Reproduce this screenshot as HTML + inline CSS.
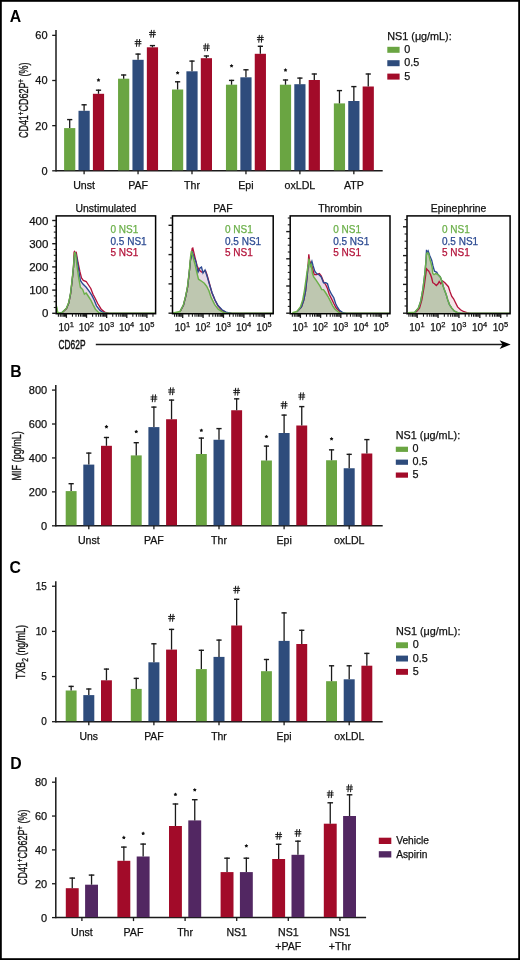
<!DOCTYPE html><html><head><meta charset="utf-8"><style>html,body{margin:0;padding:0;background:#fff;}svg{display:block;font-family:"Liberation Sans",sans-serif;will-change:transform;}</style></head><body>
<svg width="520" height="960" viewBox="0 0 520 960">
<rect x="0" y="0" width="520" height="960" fill="#fff"/>
<rect x="0.9" y="0.9" width="518.2" height="958.2" fill="none" stroke="#000" stroke-width="1.8"/>
<text x="9.8" y="21.9" font-size="15.8" text-anchor="start" font-weight="bold" fill="#000" >A</text>
<line x1="56" y1="30" x2="56" y2="171.55" stroke="#1a1a1a" stroke-width="1.5"/>
<line x1="52.2" y1="170.8" x2="56" y2="170.8" stroke="#1a1a1a" stroke-width="1.3"/>
<text x="47.6" y="174.76" font-size="11" text-anchor="end" font-weight="normal" fill="#111" stroke="#111" stroke-width="0.25" >0</text>
<line x1="52.2" y1="125.65" x2="56" y2="125.65" stroke="#1a1a1a" stroke-width="1.3"/>
<text x="47.6" y="129.61" font-size="11" text-anchor="end" font-weight="normal" fill="#111" stroke="#111" stroke-width="0.25" >20</text>
<line x1="52.2" y1="80.5" x2="56" y2="80.5" stroke="#1a1a1a" stroke-width="1.3"/>
<text x="47.6" y="84.46" font-size="11" text-anchor="end" font-weight="normal" fill="#111" stroke="#111" stroke-width="0.25" >40</text>
<line x1="52.2" y1="35.35" x2="56" y2="35.35" stroke="#1a1a1a" stroke-width="1.3"/>
<text x="47.6" y="39.31" font-size="11" text-anchor="end" font-weight="normal" fill="#111" stroke="#111" stroke-width="0.25" >60</text>
<line x1="56" y1="170.8" x2="382.7" y2="170.8" stroke="#1a1a1a" stroke-width="1.5"/>
<text transform="translate(27.9,100.3) rotate(-90) scale(0.7,1)" font-size="12.8" text-anchor="middle" font-weight="normal" fill="#111" stroke="#111" stroke-width="0.35">CD41<tspan font-size="9" dy="-4">+</tspan><tspan dy="4">CD62P</tspan><tspan font-size="9" dy="-4">+</tspan><tspan dy="4"> (%)</tspan></text>
<rect x="64.1" y="128.1" width="11.2" height="42.2" fill="#6aa542"/>
<line x1="69.7" y1="128.1" x2="69.7" y2="119" stroke="#1a1a1a" stroke-width="1.3"/>
<line x1="67.1" y1="119.6" x2="72.3" y2="119.6" stroke="#1a1a1a" stroke-width="1.4"/>
<rect x="78.5" y="110.8" width="11.2" height="59.5" fill="#2e4c7c"/>
<line x1="84.1" y1="110.8" x2="84.1" y2="104.2" stroke="#1a1a1a" stroke-width="1.3"/>
<line x1="81.5" y1="104.8" x2="86.7" y2="104.8" stroke="#1a1a1a" stroke-width="1.4"/>
<rect x="92.9" y="93.8" width="11.2" height="76.5" fill="#a20b29"/>
<line x1="98.5" y1="93.8" x2="98.5" y2="89.6" stroke="#1a1a1a" stroke-width="1.3"/>
<line x1="95.9" y1="90.2" x2="101.1" y2="90.2" stroke="#1a1a1a" stroke-width="1.4"/>
<polygon points="98.5,78.1 99.18,79.17 100.4,79.48 99.59,80.46 99.68,81.72 98.5,81.25 97.32,81.72 97.41,80.46 96.6,79.48 97.82,79.17" fill="#111"/>
<line x1="84.1" y1="170.8" x2="84.1" y2="174.3" stroke="#1a1a1a" stroke-width="1.3"/>
<text x="84.1" y="189" font-size="10.6" text-anchor="middle" font-weight="normal" fill="#111" stroke="#111" stroke-width="0.25" >Unst</text>
<rect x="118.05" y="78.7" width="11.2" height="91.6" fill="#6aa542"/>
<line x1="123.65" y1="78.7" x2="123.65" y2="74.4" stroke="#1a1a1a" stroke-width="1.3"/>
<line x1="121.05" y1="75" x2="126.25" y2="75" stroke="#1a1a1a" stroke-width="1.4"/>
<rect x="132.45" y="59.8" width="11.2" height="110.5" fill="#2e4c7c"/>
<line x1="138.05" y1="59.8" x2="138.05" y2="53.5" stroke="#1a1a1a" stroke-width="1.3"/>
<line x1="135.45" y1="54.1" x2="140.65" y2="54.1" stroke="#1a1a1a" stroke-width="1.4"/>
<path d="M137.05,39L136.45,46.8M139.65,39L139.05,46.8M134.65,41.55L141.45,41.55M134.65,43.75L141.45,43.75" stroke="#1a1a1a" stroke-width="1.0" fill="none"/>
<rect x="146.85" y="47.3" width="11.2" height="123" fill="#a20b29"/>
<line x1="152.45" y1="47.3" x2="152.45" y2="45" stroke="#1a1a1a" stroke-width="1.3"/>
<line x1="149.85" y1="45.6" x2="155.05" y2="45.6" stroke="#1a1a1a" stroke-width="1.4"/>
<path d="M151.45,29.9L150.85,37.7M154.05,29.9L153.45,37.7M149.05,32.45L155.85,32.45M149.05,34.65L155.85,34.65" stroke="#1a1a1a" stroke-width="1.0" fill="none"/>
<line x1="138.05" y1="170.8" x2="138.05" y2="174.3" stroke="#1a1a1a" stroke-width="1.3"/>
<text x="138.05" y="189" font-size="10.6" text-anchor="middle" font-weight="normal" fill="#111" stroke="#111" stroke-width="0.25" >PAF</text>
<rect x="172" y="89.5" width="11.2" height="80.8" fill="#6aa542"/>
<line x1="177.6" y1="89.5" x2="177.6" y2="81.2" stroke="#1a1a1a" stroke-width="1.3"/>
<line x1="175" y1="81.8" x2="180.2" y2="81.8" stroke="#1a1a1a" stroke-width="1.4"/>
<polygon points="177.6,70.9 178.28,71.97 179.5,72.28 178.69,73.26 178.78,74.52 177.6,74.05 176.42,74.52 176.51,73.26 175.7,72.28 176.92,71.97" fill="#111"/>
<rect x="186.4" y="71.3" width="11.2" height="99" fill="#2e4c7c"/>
<line x1="192" y1="71.3" x2="192" y2="60.5" stroke="#1a1a1a" stroke-width="1.3"/>
<line x1="189.4" y1="61.1" x2="194.6" y2="61.1" stroke="#1a1a1a" stroke-width="1.4"/>
<rect x="200.8" y="58.2" width="11.2" height="112.1" fill="#a20b29"/>
<line x1="206.4" y1="58.2" x2="206.4" y2="55.4" stroke="#1a1a1a" stroke-width="1.3"/>
<line x1="203.8" y1="56" x2="209" y2="56" stroke="#1a1a1a" stroke-width="1.4"/>
<path d="M205.4,43.4L204.8,51.2M208,43.4L207.4,51.2M203,45.95L209.8,45.95M203,48.15L209.8,48.15" stroke="#1a1a1a" stroke-width="1.0" fill="none"/>
<line x1="192" y1="170.8" x2="192" y2="174.3" stroke="#1a1a1a" stroke-width="1.3"/>
<text x="192" y="189" font-size="10.6" text-anchor="middle" font-weight="normal" fill="#111" stroke="#111" stroke-width="0.25" >Thr</text>
<rect x="225.95" y="84.7" width="11.2" height="85.6" fill="#6aa542"/>
<line x1="231.55" y1="84.7" x2="231.55" y2="79.8" stroke="#1a1a1a" stroke-width="1.3"/>
<line x1="228.95" y1="80.4" x2="234.15" y2="80.4" stroke="#1a1a1a" stroke-width="1.4"/>
<polygon points="231.55,63.9 232.23,64.97 233.45,65.28 232.64,66.26 232.73,67.52 231.55,67.05 230.37,67.52 230.46,66.26 229.65,65.28 230.87,64.97" fill="#111"/>
<rect x="240.35" y="77.3" width="11.2" height="93" fill="#2e4c7c"/>
<line x1="245.95" y1="77.3" x2="245.95" y2="69.2" stroke="#1a1a1a" stroke-width="1.3"/>
<line x1="243.35" y1="69.8" x2="248.55" y2="69.8" stroke="#1a1a1a" stroke-width="1.4"/>
<rect x="254.75" y="53.8" width="11.2" height="116.5" fill="#a20b29"/>
<line x1="260.35" y1="53.8" x2="260.35" y2="45.7" stroke="#1a1a1a" stroke-width="1.3"/>
<line x1="257.75" y1="46.3" x2="262.95" y2="46.3" stroke="#1a1a1a" stroke-width="1.4"/>
<path d="M259.35,34.9L258.75,42.7M261.95,34.9L261.35,42.7M256.95,37.45L263.75,37.45M256.95,39.65L263.75,39.65" stroke="#1a1a1a" stroke-width="1.0" fill="none"/>
<line x1="245.95" y1="170.8" x2="245.95" y2="174.3" stroke="#1a1a1a" stroke-width="1.3"/>
<text x="245.95" y="189" font-size="10.6" text-anchor="middle" font-weight="normal" fill="#111" stroke="#111" stroke-width="0.25" >Epi</text>
<rect x="279.9" y="84.7" width="11.2" height="85.6" fill="#6aa542"/>
<line x1="285.5" y1="84.7" x2="285.5" y2="79.4" stroke="#1a1a1a" stroke-width="1.3"/>
<line x1="282.9" y1="80" x2="288.1" y2="80" stroke="#1a1a1a" stroke-width="1.4"/>
<polygon points="285.5,68.1 286.18,69.17 287.4,69.48 286.59,70.46 286.68,71.72 285.5,71.25 284.32,71.72 284.41,70.46 283.6,69.48 284.82,69.17" fill="#111"/>
<rect x="294.3" y="84.2" width="11.2" height="86.1" fill="#2e4c7c"/>
<line x1="299.9" y1="84.2" x2="299.9" y2="77.5" stroke="#1a1a1a" stroke-width="1.3"/>
<line x1="297.3" y1="78.1" x2="302.5" y2="78.1" stroke="#1a1a1a" stroke-width="1.4"/>
<rect x="308.7" y="80" width="11.2" height="90.3" fill="#a20b29"/>
<line x1="314.3" y1="80" x2="314.3" y2="73.4" stroke="#1a1a1a" stroke-width="1.3"/>
<line x1="311.7" y1="74" x2="316.9" y2="74" stroke="#1a1a1a" stroke-width="1.4"/>
<line x1="299.9" y1="170.8" x2="299.9" y2="174.3" stroke="#1a1a1a" stroke-width="1.3"/>
<text x="299.9" y="189" font-size="10.6" text-anchor="middle" font-weight="normal" fill="#111" stroke="#111" stroke-width="0.25" >oxLDL</text>
<rect x="333.85" y="103.4" width="11.2" height="66.9" fill="#6aa542"/>
<line x1="339.45" y1="103.4" x2="339.45" y2="90" stroke="#1a1a1a" stroke-width="1.3"/>
<line x1="336.85" y1="90.6" x2="342.05" y2="90.6" stroke="#1a1a1a" stroke-width="1.4"/>
<rect x="348.25" y="101" width="11.2" height="69.3" fill="#2e4c7c"/>
<line x1="353.85" y1="101" x2="353.85" y2="86" stroke="#1a1a1a" stroke-width="1.3"/>
<line x1="351.25" y1="86.6" x2="356.45" y2="86.6" stroke="#1a1a1a" stroke-width="1.4"/>
<rect x="362.65" y="86.5" width="11.2" height="83.8" fill="#a20b29"/>
<line x1="368.25" y1="86.5" x2="368.25" y2="73.4" stroke="#1a1a1a" stroke-width="1.3"/>
<line x1="365.65" y1="74" x2="370.85" y2="74" stroke="#1a1a1a" stroke-width="1.4"/>
<line x1="353.85" y1="170.8" x2="353.85" y2="174.3" stroke="#1a1a1a" stroke-width="1.3"/>
<text x="353.85" y="189" font-size="10.6" text-anchor="middle" font-weight="normal" fill="#111" stroke="#111" stroke-width="0.25" >ATP</text>
<text x="387.3" y="39.9" font-size="10.8" text-anchor="start" font-weight="normal" fill="#111" stroke="#111" stroke-width="0.25" >NS1 (μg/mL):</text>
<rect x="387.3" y="46.8" width="12.3" height="6" fill="#6aa542"/>
<text x="404.2" y="52.9" font-size="10.8" text-anchor="start" font-weight="normal" fill="#111" stroke="#111" stroke-width="0.25" >0</text>
<rect x="387.3" y="60.2" width="12.3" height="6" fill="#2e4c7c"/>
<text x="404.2" y="66.3" font-size="10.8" text-anchor="start" font-weight="normal" fill="#111" stroke="#111" stroke-width="0.25" >0.5</text>
<rect x="387.3" y="73.6" width="12.3" height="6" fill="#a20b29"/>
<text x="404.2" y="79.7" font-size="10.8" text-anchor="start" font-weight="normal" fill="#111" stroke="#111" stroke-width="0.25" >5</text>
<text x="105.9" y="211.6" font-size="10.4" text-anchor="middle" font-weight="normal" fill="#111" stroke="#111" stroke-width="0.25" >Unstimulated</text>
<clipPath id="cp0"><rect x="56.2" y="215.9" width="99.4" height="97.8"/></clipPath>
<g clip-path="url(#cp0)">
<polygon points="60,313.7 60,313 62,312.6 64.2,310.6 66.5,308.4 68.8,302.8 70.6,293.5 72.3,279 73.5,267 74.4,256 75.2,252.1 76.9,258.5 78.7,270 80.4,280.4 82.7,283.8 86.2,287.3 89.6,291.9 91.9,295.4 94.2,300 96.5,305.8 100,310.4 103.5,312.7 108,313.3 108,313.7" fill="#e7d9e6"/>
<polygon points="56,313.7 56,305 57.5,312.5 60,313 62,312.6 64.2,310.4 66.5,308 68.8,302.3 70.6,293 72.3,278 73.5,266.5 74.4,255 74.8,252 75.8,255 76.9,265.4 78.7,278 80.4,287.3 82.7,289.6 84.4,294.2 86.2,293 88.5,296.5 90.8,300 93,304.6 95.4,309.2 98.8,312.7 102,313.3 102,313.7" fill="#bec7b0"/>
<polyline points="60,313 62,312.7 64.2,310.8 66.5,308.6 68.8,303 70.6,294 72.3,279.5 73.5,267 74.1,252 74.6,251.5 75.5,253.5 76.3,252.7 78.1,263 79.8,271.2 81.5,278 83.3,280.4 86.2,281.5 88.5,285 90.8,288.5 93,294.2 95.4,298.8 97.7,303.5 101.2,309.2 104.6,312.1 109.2,313.3 115,313.4 155.6,313.4" fill="none" stroke="#b3133a" stroke-width="1.35"/>
<polyline points="60,313 62,312.6 64.2,310.6 66.5,308.4 68.8,302.8 70.6,293.5 72.3,279 73.5,267 74.4,256 75.2,252.1 76.9,258.5 78.7,270 80.4,280.4 82.7,283.8 86.2,287.3 89.6,291.9 91.9,295.4 94.2,300 96.5,305.8 100,310.4 103.5,312.7 108,313.3 155.6,313.4" fill="none" stroke="#2c4a92" stroke-width="1.35"/>
<polyline points="56,305 57.5,312.5 60,313 62,312.6 64.2,310.4 66.5,308 68.8,302.3 70.6,293 72.3,278 73.5,266.5 74.4,255 74.8,252 75.8,255 76.9,265.4 78.7,278 80.4,287.3 82.7,289.6 84.4,294.2 86.2,293 88.5,296.5 90.8,300 93,304.6 95.4,309.2 98.8,312.7 102,313.3 155.6,313.3" fill="none" stroke="#6cb04a" stroke-width="1.45"/>
<polyline points="56.2,304.7 57.7,312.2 60.2,313.3" fill="none" stroke="#6cb04a" stroke-width="1.3"/>
</g>
<rect x="56.2" y="215.9" width="99.4" height="97.8" fill="none" stroke="#000" stroke-width="1.5"/>
<text x="110.5" y="233" font-size="10" text-anchor="start" font-weight="normal" fill="#6cb04a" stroke="#6cb04a" stroke-width="0.25" >0 NS1</text>
<text x="110.5" y="244.5" font-size="10" text-anchor="start" font-weight="normal" fill="#2c4a92" stroke="#2c4a92" stroke-width="0.25" >0.5 NS1</text>
<text x="110.5" y="256" font-size="10" text-anchor="start" font-weight="normal" fill="#b3133a" stroke="#b3133a" stroke-width="0.25" >5 NS1</text>
<line x1="52.2" y1="313.3" x2="56.2" y2="313.3" stroke="#1a1a1a" stroke-width="1.4"/>
<text x="48.4" y="317.4" font-size="11.5" text-anchor="end" font-weight="normal" fill="#111" stroke="#111" stroke-width="0.25" >0</text>
<line x1="52.2" y1="290.1" x2="56.2" y2="290.1" stroke="#1a1a1a" stroke-width="1.4"/>
<text x="48.4" y="294.2" font-size="11.5" text-anchor="end" font-weight="normal" fill="#111" stroke="#111" stroke-width="0.25" >100</text>
<line x1="52.2" y1="266.9" x2="56.2" y2="266.9" stroke="#1a1a1a" stroke-width="1.4"/>
<text x="48.4" y="271" font-size="11.5" text-anchor="end" font-weight="normal" fill="#111" stroke="#111" stroke-width="0.25" >200</text>
<line x1="52.2" y1="243.7" x2="56.2" y2="243.7" stroke="#1a1a1a" stroke-width="1.4"/>
<text x="48.4" y="247.8" font-size="11.5" text-anchor="end" font-weight="normal" fill="#111" stroke="#111" stroke-width="0.25" >300</text>
<line x1="52.2" y1="220.5" x2="56.2" y2="220.5" stroke="#1a1a1a" stroke-width="1.4"/>
<text x="48.4" y="224.6" font-size="11.5" text-anchor="end" font-weight="normal" fill="#111" stroke="#111" stroke-width="0.25" >400</text>
<line x1="53.8" y1="307.5" x2="56.2" y2="307.5" stroke="#1a1a1a" stroke-width="1.1"/>
<line x1="53.8" y1="301.7" x2="56.2" y2="301.7" stroke="#1a1a1a" stroke-width="1.1"/>
<line x1="53.8" y1="295.9" x2="56.2" y2="295.9" stroke="#1a1a1a" stroke-width="1.1"/>
<line x1="53.8" y1="284.3" x2="56.2" y2="284.3" stroke="#1a1a1a" stroke-width="1.1"/>
<line x1="53.8" y1="278.5" x2="56.2" y2="278.5" stroke="#1a1a1a" stroke-width="1.1"/>
<line x1="53.8" y1="272.7" x2="56.2" y2="272.7" stroke="#1a1a1a" stroke-width="1.1"/>
<line x1="53.8" y1="261.1" x2="56.2" y2="261.1" stroke="#1a1a1a" stroke-width="1.1"/>
<line x1="53.8" y1="255.3" x2="56.2" y2="255.3" stroke="#1a1a1a" stroke-width="1.1"/>
<line x1="53.8" y1="249.5" x2="56.2" y2="249.5" stroke="#1a1a1a" stroke-width="1.1"/>
<line x1="53.8" y1="237.9" x2="56.2" y2="237.9" stroke="#1a1a1a" stroke-width="1.1"/>
<line x1="53.8" y1="232.1" x2="56.2" y2="232.1" stroke="#1a1a1a" stroke-width="1.1"/>
<line x1="53.8" y1="226.3" x2="56.2" y2="226.3" stroke="#1a1a1a" stroke-width="1.1"/>
<line x1="58.39" y1="313.7" x2="58.39" y2="316.7" stroke="#1a1a1a" stroke-width="1.1"/>
<line x1="60.34" y1="313.7" x2="60.34" y2="316.7" stroke="#1a1a1a" stroke-width="1.1"/>
<line x1="61.93" y1="313.7" x2="61.93" y2="316.7" stroke="#1a1a1a" stroke-width="1.1"/>
<line x1="63.28" y1="313.7" x2="63.28" y2="316.7" stroke="#1a1a1a" stroke-width="1.1"/>
<line x1="64.45" y1="313.7" x2="64.45" y2="316.7" stroke="#1a1a1a" stroke-width="1.1"/>
<line x1="65.48" y1="313.7" x2="65.48" y2="316.7" stroke="#1a1a1a" stroke-width="1.1"/>
<line x1="66.4" y1="313.7" x2="66.4" y2="317.9" stroke="#1a1a1a" stroke-width="1.3"/>
<line x1="72.46" y1="313.7" x2="72.46" y2="316.7" stroke="#1a1a1a" stroke-width="1.1"/>
<line x1="76" y1="313.7" x2="76" y2="316.7" stroke="#1a1a1a" stroke-width="1.1"/>
<line x1="78.52" y1="313.7" x2="78.52" y2="316.7" stroke="#1a1a1a" stroke-width="1.1"/>
<line x1="80.47" y1="313.7" x2="80.47" y2="316.7" stroke="#1a1a1a" stroke-width="1.1"/>
<line x1="82.06" y1="313.7" x2="82.06" y2="316.7" stroke="#1a1a1a" stroke-width="1.1"/>
<line x1="83.41" y1="313.7" x2="83.41" y2="316.7" stroke="#1a1a1a" stroke-width="1.1"/>
<line x1="84.58" y1="313.7" x2="84.58" y2="316.7" stroke="#1a1a1a" stroke-width="1.1"/>
<line x1="85.61" y1="313.7" x2="85.61" y2="316.7" stroke="#1a1a1a" stroke-width="1.1"/>
<line x1="86.53" y1="313.7" x2="86.53" y2="317.9" stroke="#1a1a1a" stroke-width="1.3"/>
<line x1="92.59" y1="313.7" x2="92.59" y2="316.7" stroke="#1a1a1a" stroke-width="1.1"/>
<line x1="96.13" y1="313.7" x2="96.13" y2="316.7" stroke="#1a1a1a" stroke-width="1.1"/>
<line x1="98.65" y1="313.7" x2="98.65" y2="316.7" stroke="#1a1a1a" stroke-width="1.1"/>
<line x1="100.6" y1="313.7" x2="100.6" y2="316.7" stroke="#1a1a1a" stroke-width="1.1"/>
<line x1="102.19" y1="313.7" x2="102.19" y2="316.7" stroke="#1a1a1a" stroke-width="1.1"/>
<line x1="103.54" y1="313.7" x2="103.54" y2="316.7" stroke="#1a1a1a" stroke-width="1.1"/>
<line x1="104.71" y1="313.7" x2="104.71" y2="316.7" stroke="#1a1a1a" stroke-width="1.1"/>
<line x1="105.74" y1="313.7" x2="105.74" y2="316.7" stroke="#1a1a1a" stroke-width="1.1"/>
<line x1="106.66" y1="313.7" x2="106.66" y2="317.9" stroke="#1a1a1a" stroke-width="1.3"/>
<line x1="112.72" y1="313.7" x2="112.72" y2="316.7" stroke="#1a1a1a" stroke-width="1.1"/>
<line x1="116.26" y1="313.7" x2="116.26" y2="316.7" stroke="#1a1a1a" stroke-width="1.1"/>
<line x1="118.78" y1="313.7" x2="118.78" y2="316.7" stroke="#1a1a1a" stroke-width="1.1"/>
<line x1="120.73" y1="313.7" x2="120.73" y2="316.7" stroke="#1a1a1a" stroke-width="1.1"/>
<line x1="122.32" y1="313.7" x2="122.32" y2="316.7" stroke="#1a1a1a" stroke-width="1.1"/>
<line x1="123.67" y1="313.7" x2="123.67" y2="316.7" stroke="#1a1a1a" stroke-width="1.1"/>
<line x1="124.83" y1="313.7" x2="124.83" y2="316.7" stroke="#1a1a1a" stroke-width="1.1"/>
<line x1="125.86" y1="313.7" x2="125.86" y2="316.7" stroke="#1a1a1a" stroke-width="1.1"/>
<line x1="126.79" y1="313.7" x2="126.79" y2="317.9" stroke="#1a1a1a" stroke-width="1.3"/>
<line x1="132.84" y1="313.7" x2="132.84" y2="316.7" stroke="#1a1a1a" stroke-width="1.1"/>
<line x1="136.39" y1="313.7" x2="136.39" y2="316.7" stroke="#1a1a1a" stroke-width="1.1"/>
<line x1="138.9" y1="313.7" x2="138.9" y2="316.7" stroke="#1a1a1a" stroke-width="1.1"/>
<line x1="140.85" y1="313.7" x2="140.85" y2="316.7" stroke="#1a1a1a" stroke-width="1.1"/>
<line x1="142.45" y1="313.7" x2="142.45" y2="316.7" stroke="#1a1a1a" stroke-width="1.1"/>
<line x1="143.8" y1="313.7" x2="143.8" y2="316.7" stroke="#1a1a1a" stroke-width="1.1"/>
<line x1="144.96" y1="313.7" x2="144.96" y2="316.7" stroke="#1a1a1a" stroke-width="1.1"/>
<line x1="145.99" y1="313.7" x2="145.99" y2="316.7" stroke="#1a1a1a" stroke-width="1.1"/>
<line x1="146.91" y1="313.7" x2="146.91" y2="317.9" stroke="#1a1a1a" stroke-width="1.3"/>
<line x1="152.97" y1="313.7" x2="152.97" y2="316.7" stroke="#1a1a1a" stroke-width="1.1"/>
<text x="58.5" y="331.4" font-size="10" fill="#111" stroke="#111" stroke-width="0.25">10<tspan font-size="7.5" dy="-4.2">1</tspan></text>
<text x="78.63" y="331.4" font-size="10" fill="#111" stroke="#111" stroke-width="0.25">10<tspan font-size="7.5" dy="-4.2">2</tspan></text>
<text x="98.76" y="331.4" font-size="10" fill="#111" stroke="#111" stroke-width="0.25">10<tspan font-size="7.5" dy="-4.2">3</tspan></text>
<text x="118.89" y="331.4" font-size="10" fill="#111" stroke="#111" stroke-width="0.25">10<tspan font-size="7.5" dy="-4.2">4</tspan></text>
<text x="139.01" y="331.4" font-size="10" fill="#111" stroke="#111" stroke-width="0.25">10<tspan font-size="7.5" dy="-4.2">5</tspan></text>
<text x="222.85" y="211.6" font-size="10.4" text-anchor="middle" font-weight="normal" fill="#111" stroke="#111" stroke-width="0.25" >PAF</text>
<clipPath id="cp1"><rect x="172.5" y="215.9" width="100.7" height="97.8"/></clipPath>
<g clip-path="url(#cp1)">
<polygon points="180,313.7 180,311.6 183.5,305 185.8,296 187.6,287 189.3,272 190.5,260 192.5,252.7 194,257 196,262 198,272.3 200,268 201.5,267.1 203,273 205,270 207,276 209.5,284.5 212,292.5 215,300 218,305.5 222,309.8 226,312.2 232,313.3 232,313.7" fill="#e7d9e6"/>
<polygon points="173,313.7 173,313 180,311.5 183.5,304.6 185.8,295.4 187.6,286 189.3,271 190.5,257.3 191.4,251 192.8,256 195,264.2 196.8,272.3 198.5,279.2 202,281.5 204.3,283.3 206.6,286.2 208.9,290.8 211.2,297.7 214.7,304.6 218.2,309.2 222.8,312.1 226.2,313.2 226.2,313.7" fill="#bec7b0"/>
<polyline points="180,311.7 183.5,305.2 185.8,296.2 187.6,287.2 189.3,272 190.5,260 192.2,248.5 192.8,248.1 195,257.3 197,265.4 199,270 202,272.3 205.5,270.6 207,274.6 209.5,283.8 212,293 215,300 218,305.8 222,310.4 226,312.3 232,313.3 273.2,313.4" fill="none" stroke="#b3133a" stroke-width="1.35"/>
<polyline points="180,311.6 183.5,305 185.8,296 187.6,287 189.3,272 190.5,260 192.5,252.7 194,257 196,262 198,272.3 200,268 201.5,267.1 203,273 205,270 207,276 209.5,284.5 212,292.5 215,300 218,305.5 222,309.8 226,312.2 232,313.3 273.2,313.4" fill="none" stroke="#2c4a92" stroke-width="1.35"/>
<polyline points="173,313 180,311.5 183.5,304.6 185.8,295.4 187.6,286 189.3,271 190.5,257.3 191.4,251 192.8,256 195,264.2 196.8,272.3 198.5,279.2 202,281.5 204.3,283.3 206.6,286.2 208.9,290.8 211.2,297.7 214.7,304.6 218.2,309.2 222.8,312.1 226.2,313.2 273.2,313.3" fill="none" stroke="#6cb04a" stroke-width="1.45"/>
</g>
<rect x="172.5" y="215.9" width="100.7" height="97.8" fill="none" stroke="#000" stroke-width="1.5"/>
<text x="225" y="233" font-size="10" text-anchor="start" font-weight="normal" fill="#6cb04a" stroke="#6cb04a" stroke-width="0.25" >0 NS1</text>
<text x="225" y="244.5" font-size="10" text-anchor="start" font-weight="normal" fill="#2c4a92" stroke="#2c4a92" stroke-width="0.25" >0.5 NS1</text>
<text x="225" y="256" font-size="10" text-anchor="start" font-weight="normal" fill="#b3133a" stroke="#b3133a" stroke-width="0.25" >5 NS1</text>
<line x1="168.5" y1="313.2" x2="172.5" y2="313.2" stroke="#1a1a1a" stroke-width="1.4"/>
<line x1="170.1" y1="305.88" x2="172.5" y2="305.88" stroke="#1a1a1a" stroke-width="1.1"/>
<line x1="170.1" y1="298.55" x2="172.5" y2="298.55" stroke="#1a1a1a" stroke-width="1.1"/>
<line x1="170.1" y1="291.22" x2="172.5" y2="291.22" stroke="#1a1a1a" stroke-width="1.1"/>
<line x1="168.5" y1="283.9" x2="172.5" y2="283.9" stroke="#1a1a1a" stroke-width="1.4"/>
<line x1="170.1" y1="276.57" x2="172.5" y2="276.57" stroke="#1a1a1a" stroke-width="1.1"/>
<line x1="170.1" y1="269.25" x2="172.5" y2="269.25" stroke="#1a1a1a" stroke-width="1.1"/>
<line x1="170.1" y1="261.92" x2="172.5" y2="261.92" stroke="#1a1a1a" stroke-width="1.1"/>
<line x1="168.5" y1="254.6" x2="172.5" y2="254.6" stroke="#1a1a1a" stroke-width="1.4"/>
<line x1="170.1" y1="247.27" x2="172.5" y2="247.27" stroke="#1a1a1a" stroke-width="1.1"/>
<line x1="170.1" y1="239.95" x2="172.5" y2="239.95" stroke="#1a1a1a" stroke-width="1.1"/>
<line x1="170.1" y1="232.62" x2="172.5" y2="232.62" stroke="#1a1a1a" stroke-width="1.1"/>
<line x1="168.5" y1="225.3" x2="172.5" y2="225.3" stroke="#1a1a1a" stroke-width="1.4"/>
<line x1="170.1" y1="217.97" x2="172.5" y2="217.97" stroke="#1a1a1a" stroke-width="1.1"/>
<line x1="174.59" y1="313.7" x2="174.59" y2="316.7" stroke="#1a1a1a" stroke-width="1.1"/>
<line x1="176.56" y1="313.7" x2="176.56" y2="316.7" stroke="#1a1a1a" stroke-width="1.1"/>
<line x1="178.18" y1="313.7" x2="178.18" y2="316.7" stroke="#1a1a1a" stroke-width="1.1"/>
<line x1="179.54" y1="313.7" x2="179.54" y2="316.7" stroke="#1a1a1a" stroke-width="1.1"/>
<line x1="180.72" y1="313.7" x2="180.72" y2="316.7" stroke="#1a1a1a" stroke-width="1.1"/>
<line x1="181.77" y1="313.7" x2="181.77" y2="316.7" stroke="#1a1a1a" stroke-width="1.1"/>
<line x1="182.7" y1="313.7" x2="182.7" y2="317.9" stroke="#1a1a1a" stroke-width="1.3"/>
<line x1="188.84" y1="313.7" x2="188.84" y2="316.7" stroke="#1a1a1a" stroke-width="1.1"/>
<line x1="192.43" y1="313.7" x2="192.43" y2="316.7" stroke="#1a1a1a" stroke-width="1.1"/>
<line x1="194.98" y1="313.7" x2="194.98" y2="316.7" stroke="#1a1a1a" stroke-width="1.1"/>
<line x1="196.95" y1="313.7" x2="196.95" y2="316.7" stroke="#1a1a1a" stroke-width="1.1"/>
<line x1="198.57" y1="313.7" x2="198.57" y2="316.7" stroke="#1a1a1a" stroke-width="1.1"/>
<line x1="199.93" y1="313.7" x2="199.93" y2="316.7" stroke="#1a1a1a" stroke-width="1.1"/>
<line x1="201.12" y1="313.7" x2="201.12" y2="316.7" stroke="#1a1a1a" stroke-width="1.1"/>
<line x1="202.16" y1="313.7" x2="202.16" y2="316.7" stroke="#1a1a1a" stroke-width="1.1"/>
<line x1="203.09" y1="313.7" x2="203.09" y2="317.9" stroke="#1a1a1a" stroke-width="1.3"/>
<line x1="209.23" y1="313.7" x2="209.23" y2="316.7" stroke="#1a1a1a" stroke-width="1.1"/>
<line x1="212.82" y1="313.7" x2="212.82" y2="316.7" stroke="#1a1a1a" stroke-width="1.1"/>
<line x1="215.37" y1="313.7" x2="215.37" y2="316.7" stroke="#1a1a1a" stroke-width="1.1"/>
<line x1="217.34" y1="313.7" x2="217.34" y2="316.7" stroke="#1a1a1a" stroke-width="1.1"/>
<line x1="218.96" y1="313.7" x2="218.96" y2="316.7" stroke="#1a1a1a" stroke-width="1.1"/>
<line x1="220.32" y1="313.7" x2="220.32" y2="316.7" stroke="#1a1a1a" stroke-width="1.1"/>
<line x1="221.51" y1="313.7" x2="221.51" y2="316.7" stroke="#1a1a1a" stroke-width="1.1"/>
<line x1="222.55" y1="313.7" x2="222.55" y2="316.7" stroke="#1a1a1a" stroke-width="1.1"/>
<line x1="223.48" y1="313.7" x2="223.48" y2="317.9" stroke="#1a1a1a" stroke-width="1.3"/>
<line x1="229.62" y1="313.7" x2="229.62" y2="316.7" stroke="#1a1a1a" stroke-width="1.1"/>
<line x1="233.21" y1="313.7" x2="233.21" y2="316.7" stroke="#1a1a1a" stroke-width="1.1"/>
<line x1="235.76" y1="313.7" x2="235.76" y2="316.7" stroke="#1a1a1a" stroke-width="1.1"/>
<line x1="237.74" y1="313.7" x2="237.74" y2="316.7" stroke="#1a1a1a" stroke-width="1.1"/>
<line x1="239.35" y1="313.7" x2="239.35" y2="316.7" stroke="#1a1a1a" stroke-width="1.1"/>
<line x1="240.72" y1="313.7" x2="240.72" y2="316.7" stroke="#1a1a1a" stroke-width="1.1"/>
<line x1="241.9" y1="313.7" x2="241.9" y2="316.7" stroke="#1a1a1a" stroke-width="1.1"/>
<line x1="242.94" y1="313.7" x2="242.94" y2="316.7" stroke="#1a1a1a" stroke-width="1.1"/>
<line x1="243.88" y1="313.7" x2="243.88" y2="317.9" stroke="#1a1a1a" stroke-width="1.3"/>
<line x1="250.01" y1="313.7" x2="250.01" y2="316.7" stroke="#1a1a1a" stroke-width="1.1"/>
<line x1="253.6" y1="313.7" x2="253.6" y2="316.7" stroke="#1a1a1a" stroke-width="1.1"/>
<line x1="256.15" y1="313.7" x2="256.15" y2="316.7" stroke="#1a1a1a" stroke-width="1.1"/>
<line x1="258.13" y1="313.7" x2="258.13" y2="316.7" stroke="#1a1a1a" stroke-width="1.1"/>
<line x1="259.74" y1="313.7" x2="259.74" y2="316.7" stroke="#1a1a1a" stroke-width="1.1"/>
<line x1="261.11" y1="313.7" x2="261.11" y2="316.7" stroke="#1a1a1a" stroke-width="1.1"/>
<line x1="262.29" y1="313.7" x2="262.29" y2="316.7" stroke="#1a1a1a" stroke-width="1.1"/>
<line x1="263.33" y1="313.7" x2="263.33" y2="316.7" stroke="#1a1a1a" stroke-width="1.1"/>
<line x1="264.27" y1="313.7" x2="264.27" y2="317.9" stroke="#1a1a1a" stroke-width="1.3"/>
<line x1="270.41" y1="313.7" x2="270.41" y2="316.7" stroke="#1a1a1a" stroke-width="1.1"/>
<text x="174.8" y="331.4" font-size="10" fill="#111" stroke="#111" stroke-width="0.25">10<tspan font-size="7.5" dy="-4.2">1</tspan></text>
<text x="195.19" y="331.4" font-size="10" fill="#111" stroke="#111" stroke-width="0.25">10<tspan font-size="7.5" dy="-4.2">2</tspan></text>
<text x="215.58" y="331.4" font-size="10" fill="#111" stroke="#111" stroke-width="0.25">10<tspan font-size="7.5" dy="-4.2">3</tspan></text>
<text x="235.98" y="331.4" font-size="10" fill="#111" stroke="#111" stroke-width="0.25">10<tspan font-size="7.5" dy="-4.2">4</tspan></text>
<text x="256.37" y="331.4" font-size="10" fill="#111" stroke="#111" stroke-width="0.25">10<tspan font-size="7.5" dy="-4.2">5</tspan></text>
<text x="340.1" y="211.6" font-size="10.4" text-anchor="middle" font-weight="normal" fill="#111" stroke="#111" stroke-width="0.25" >Thrombin</text>
<clipPath id="cp2"><rect x="290.2" y="215.9" width="99.8" height="97.8"/></clipPath>
<g clip-path="url(#cp2)">
<polygon points="296.9,313.7 296.9,311.7 301.5,306.9 303.8,300 305.6,290.8 307.3,274.6 308,266.5 309,263 310.8,264.2 311.9,261.3 313,265.4 314.8,271.2 316.5,273.5 318.8,274.6 321.2,277 323.5,282.7 325.8,282.7 327.5,283.8 329.2,289.6 331.5,294.2 333.8,297.7 335.6,303.5 337.3,307 339.6,310.4 343,312.7 346.5,313.3 346.5,313.7" fill="#e7d9e6"/>
<polygon points="292.3,313.7 292.3,312.7 296.9,311.5 300.4,306.9 302.7,300 304.4,290.8 306.2,278 307.3,270 308.5,263 309,258.5 310.2,266.5 311.3,264.8 312.5,273.5 313.7,277 315.4,279.2 317.7,282.7 320,286.2 321.7,289.6 323.5,289.6 325.8,293 328,296.5 330.4,301.2 332.7,305.8 335,309.2 338.5,312.1 340.8,313.3 340.8,313.7" fill="#bec7b0"/>
<polyline points="296.9,311.8 301.5,307 303.8,300.2 305.6,291 307.3,275 308.3,262 308.8,254.4 309.6,260.8 311.3,264.2 313,270 314.2,274.6 316.5,274.6 319.4,273.5 321.2,275.8 323.5,281.5 325.8,285 327.5,288.5 329.2,294.2 331.5,298.8 333.8,303.5 336.2,308 339.6,311.5 343,313.3 390,313.4" fill="none" stroke="#b3133a" stroke-width="1.35"/>
<polyline points="296.9,311.7 301.5,306.9 303.8,300 305.6,290.8 307.3,274.6 308,266.5 309,263 310.8,264.2 311.9,261.3 313,265.4 314.8,271.2 316.5,273.5 318.8,274.6 321.2,277 323.5,282.7 325.8,282.7 327.5,283.8 329.2,289.6 331.5,294.2 333.8,297.7 335.6,303.5 337.3,307 339.6,310.4 343,312.7 346.5,313.3 390,313.4" fill="none" stroke="#2c4a92" stroke-width="1.35"/>
<polyline points="292.3,312.7 296.9,311.5 300.4,306.9 302.7,300 304.4,290.8 306.2,278 307.3,270 308.5,263 309,258.5 310.2,266.5 311.3,264.8 312.5,273.5 313.7,277 315.4,279.2 317.7,282.7 320,286.2 321.7,289.6 323.5,289.6 325.8,293 328,296.5 330.4,301.2 332.7,305.8 335,309.2 338.5,312.1 340.8,313.3 390,313.3" fill="none" stroke="#6cb04a" stroke-width="1.45"/>
</g>
<rect x="290.2" y="215.9" width="99.8" height="97.8" fill="none" stroke="#000" stroke-width="1.5"/>
<text x="333.2" y="233" font-size="10" text-anchor="start" font-weight="normal" fill="#6cb04a" stroke="#6cb04a" stroke-width="0.25" >0 NS1</text>
<text x="333.2" y="244.5" font-size="10" text-anchor="start" font-weight="normal" fill="#2c4a92" stroke="#2c4a92" stroke-width="0.25" >0.5 NS1</text>
<text x="333.2" y="256" font-size="10" text-anchor="start" font-weight="normal" fill="#b3133a" stroke="#b3133a" stroke-width="0.25" >5 NS1</text>
<line x1="286.2" y1="313.2" x2="290.2" y2="313.2" stroke="#1a1a1a" stroke-width="1.4"/>
<line x1="287.8" y1="306.4" x2="290.2" y2="306.4" stroke="#1a1a1a" stroke-width="1.1"/>
<line x1="287.8" y1="299.6" x2="290.2" y2="299.6" stroke="#1a1a1a" stroke-width="1.1"/>
<line x1="287.8" y1="292.8" x2="290.2" y2="292.8" stroke="#1a1a1a" stroke-width="1.1"/>
<line x1="286.2" y1="286" x2="290.2" y2="286" stroke="#1a1a1a" stroke-width="1.4"/>
<line x1="287.8" y1="279.2" x2="290.2" y2="279.2" stroke="#1a1a1a" stroke-width="1.1"/>
<line x1="287.8" y1="272.4" x2="290.2" y2="272.4" stroke="#1a1a1a" stroke-width="1.1"/>
<line x1="287.8" y1="265.6" x2="290.2" y2="265.6" stroke="#1a1a1a" stroke-width="1.1"/>
<line x1="286.2" y1="258.8" x2="290.2" y2="258.8" stroke="#1a1a1a" stroke-width="1.4"/>
<line x1="287.8" y1="252" x2="290.2" y2="252" stroke="#1a1a1a" stroke-width="1.1"/>
<line x1="287.8" y1="245.2" x2="290.2" y2="245.2" stroke="#1a1a1a" stroke-width="1.1"/>
<line x1="287.8" y1="238.4" x2="290.2" y2="238.4" stroke="#1a1a1a" stroke-width="1.1"/>
<line x1="286.2" y1="231.6" x2="290.2" y2="231.6" stroke="#1a1a1a" stroke-width="1.4"/>
<line x1="287.8" y1="224.8" x2="290.2" y2="224.8" stroke="#1a1a1a" stroke-width="1.1"/>
<line x1="287.8" y1="218" x2="290.2" y2="218" stroke="#1a1a1a" stroke-width="1.1"/>
<line x1="292.36" y1="313.7" x2="292.36" y2="316.7" stroke="#1a1a1a" stroke-width="1.1"/>
<line x1="294.32" y1="313.7" x2="294.32" y2="316.7" stroke="#1a1a1a" stroke-width="1.1"/>
<line x1="295.92" y1="313.7" x2="295.92" y2="316.7" stroke="#1a1a1a" stroke-width="1.1"/>
<line x1="297.27" y1="313.7" x2="297.27" y2="316.7" stroke="#1a1a1a" stroke-width="1.1"/>
<line x1="298.44" y1="313.7" x2="298.44" y2="316.7" stroke="#1a1a1a" stroke-width="1.1"/>
<line x1="299.48" y1="313.7" x2="299.48" y2="316.7" stroke="#1a1a1a" stroke-width="1.1"/>
<line x1="300.4" y1="313.7" x2="300.4" y2="317.9" stroke="#1a1a1a" stroke-width="1.3"/>
<line x1="306.48" y1="313.7" x2="306.48" y2="316.7" stroke="#1a1a1a" stroke-width="1.1"/>
<line x1="310.04" y1="313.7" x2="310.04" y2="316.7" stroke="#1a1a1a" stroke-width="1.1"/>
<line x1="312.57" y1="313.7" x2="312.57" y2="316.7" stroke="#1a1a1a" stroke-width="1.1"/>
<line x1="314.53" y1="313.7" x2="314.53" y2="316.7" stroke="#1a1a1a" stroke-width="1.1"/>
<line x1="316.13" y1="313.7" x2="316.13" y2="316.7" stroke="#1a1a1a" stroke-width="1.1"/>
<line x1="317.48" y1="313.7" x2="317.48" y2="316.7" stroke="#1a1a1a" stroke-width="1.1"/>
<line x1="318.65" y1="313.7" x2="318.65" y2="316.7" stroke="#1a1a1a" stroke-width="1.1"/>
<line x1="319.68" y1="313.7" x2="319.68" y2="316.7" stroke="#1a1a1a" stroke-width="1.1"/>
<line x1="320.61" y1="313.7" x2="320.61" y2="317.9" stroke="#1a1a1a" stroke-width="1.3"/>
<line x1="326.69" y1="313.7" x2="326.69" y2="316.7" stroke="#1a1a1a" stroke-width="1.1"/>
<line x1="330.25" y1="313.7" x2="330.25" y2="316.7" stroke="#1a1a1a" stroke-width="1.1"/>
<line x1="332.78" y1="313.7" x2="332.78" y2="316.7" stroke="#1a1a1a" stroke-width="1.1"/>
<line x1="334.74" y1="313.7" x2="334.74" y2="316.7" stroke="#1a1a1a" stroke-width="1.1"/>
<line x1="336.34" y1="313.7" x2="336.34" y2="316.7" stroke="#1a1a1a" stroke-width="1.1"/>
<line x1="337.69" y1="313.7" x2="337.69" y2="316.7" stroke="#1a1a1a" stroke-width="1.1"/>
<line x1="338.86" y1="313.7" x2="338.86" y2="316.7" stroke="#1a1a1a" stroke-width="1.1"/>
<line x1="339.89" y1="313.7" x2="339.89" y2="316.7" stroke="#1a1a1a" stroke-width="1.1"/>
<line x1="340.82" y1="313.7" x2="340.82" y2="317.9" stroke="#1a1a1a" stroke-width="1.3"/>
<line x1="346.9" y1="313.7" x2="346.9" y2="316.7" stroke="#1a1a1a" stroke-width="1.1"/>
<line x1="350.46" y1="313.7" x2="350.46" y2="316.7" stroke="#1a1a1a" stroke-width="1.1"/>
<line x1="352.99" y1="313.7" x2="352.99" y2="316.7" stroke="#1a1a1a" stroke-width="1.1"/>
<line x1="354.94" y1="313.7" x2="354.94" y2="316.7" stroke="#1a1a1a" stroke-width="1.1"/>
<line x1="356.55" y1="313.7" x2="356.55" y2="316.7" stroke="#1a1a1a" stroke-width="1.1"/>
<line x1="357.9" y1="313.7" x2="357.9" y2="316.7" stroke="#1a1a1a" stroke-width="1.1"/>
<line x1="359.07" y1="313.7" x2="359.07" y2="316.7" stroke="#1a1a1a" stroke-width="1.1"/>
<line x1="360.1" y1="313.7" x2="360.1" y2="316.7" stroke="#1a1a1a" stroke-width="1.1"/>
<line x1="361.03" y1="313.7" x2="361.03" y2="317.9" stroke="#1a1a1a" stroke-width="1.3"/>
<line x1="367.11" y1="313.7" x2="367.11" y2="316.7" stroke="#1a1a1a" stroke-width="1.1"/>
<line x1="370.67" y1="313.7" x2="370.67" y2="316.7" stroke="#1a1a1a" stroke-width="1.1"/>
<line x1="373.2" y1="313.7" x2="373.2" y2="316.7" stroke="#1a1a1a" stroke-width="1.1"/>
<line x1="375.15" y1="313.7" x2="375.15" y2="316.7" stroke="#1a1a1a" stroke-width="1.1"/>
<line x1="376.75" y1="313.7" x2="376.75" y2="316.7" stroke="#1a1a1a" stroke-width="1.1"/>
<line x1="378.11" y1="313.7" x2="378.11" y2="316.7" stroke="#1a1a1a" stroke-width="1.1"/>
<line x1="379.28" y1="313.7" x2="379.28" y2="316.7" stroke="#1a1a1a" stroke-width="1.1"/>
<line x1="380.31" y1="313.7" x2="380.31" y2="316.7" stroke="#1a1a1a" stroke-width="1.1"/>
<line x1="381.24" y1="313.7" x2="381.24" y2="317.9" stroke="#1a1a1a" stroke-width="1.3"/>
<line x1="387.32" y1="313.7" x2="387.32" y2="316.7" stroke="#1a1a1a" stroke-width="1.1"/>
<text x="292.5" y="331.4" font-size="10" fill="#111" stroke="#111" stroke-width="0.25">10<tspan font-size="7.5" dy="-4.2">1</tspan></text>
<text x="312.71" y="331.4" font-size="10" fill="#111" stroke="#111" stroke-width="0.25">10<tspan font-size="7.5" dy="-4.2">2</tspan></text>
<text x="332.92" y="331.4" font-size="10" fill="#111" stroke="#111" stroke-width="0.25">10<tspan font-size="7.5" dy="-4.2">3</tspan></text>
<text x="353.13" y="331.4" font-size="10" fill="#111" stroke="#111" stroke-width="0.25">10<tspan font-size="7.5" dy="-4.2">4</tspan></text>
<text x="373.34" y="331.4" font-size="10" fill="#111" stroke="#111" stroke-width="0.25">10<tspan font-size="7.5" dy="-4.2">5</tspan></text>
<text x="458.55" y="211.6" font-size="10.4" text-anchor="middle" font-weight="normal" fill="#111" stroke="#111" stroke-width="0.25" >Epinephrine</text>
<clipPath id="cp3"><rect x="407" y="215.9" width="103.1" height="97.8"/></clipPath>
<g clip-path="url(#cp3)">
<polygon points="416.1,313.7 416.1,312.1 419.5,308.1 421.8,300 424.2,286.2 425.9,273.5 426.5,268.8 427.6,270 428.8,271.2 429.3,272.3 430.5,274.6 431.7,278 432.8,282.7 434.5,283.8 436.3,285.6 438,283.8 439.2,281.5 440.9,283.8 442.6,281 444.9,282.7 448.4,286.7 450.1,291.9 451.8,296.5 453.6,298.8 455.3,302.3 457.6,306.9 460.5,309.8 463.4,311.5 466.8,312.7 470,313.3 470,313.7" fill="#f5e5e9"/>
<polygon points="408,313.7 408,312.7 414.9,312.1 418.4,308.1 420.7,301.2 423,288.5 424.7,274.6 425.9,261.9 426.5,253.8 427.6,252.7 428.8,254.4 429.9,259.6 431.1,263.1 432.2,267.7 432.8,273.5 434,274.6 435.7,273.5 438,274.6 440.3,276.9 442,281.5 443.2,286.2 444.3,289.6 446.1,294.2 447.8,300 449.5,304.6 451.8,308.1 454.2,311 457.6,312.7 461,313.3 461,313.7" fill="#bec7b0"/>
<polyline points="416.1,312.1 419.5,308.1 421.8,300 424.2,286.2 425.9,273.5 426.5,268.8 427.6,270 428.8,271.2 429.3,272.3 430.5,274.6 431.7,278 432.8,282.7 434.5,283.8 436.3,285.6 438,283.8 439.2,281.5 440.9,283.8 442.6,281 444.9,282.7 448.4,286.7 450.1,291.9 451.8,296.5 453.6,298.8 455.3,302.3 457.6,306.9 460.5,309.8 463.4,311.5 466.8,312.7 470,313.3 510.1,313.4" fill="none" stroke="#b3133a" stroke-width="1.35"/>
<polyline points="414.9,312.2 418.4,308.2 420.7,301.3 423,288.6 424.7,274.7 425.9,262 426.5,249.8 427.3,253 428.2,251 429.9,256 431.7,260.2 433,266 434.5,271.2 436.8,272.3 438,274.6 440.3,276.9 442,281.5 443.2,286.2 444.3,289.6 446.1,294.2 447.8,300 449.5,304.6 451.8,308.1 454.2,311 457.6,312.7 461,313.3 510.1,313.4" fill="none" stroke="#2c4a92" stroke-width="1.35"/>
<polyline points="408,312.7 414.9,312.1 418.4,308.1 420.7,301.2 423,288.5 424.7,274.6 425.9,261.9 426.5,253.8 427.6,252.7 428.8,254.4 429.9,259.6 431.1,263.1 432.2,267.7 432.8,273.5 434,274.6 435.7,273.5 438,274.6 440.3,276.9 442,281.5 443.2,286.2 444.3,289.6 446.1,294.2 447.8,300 449.5,304.6 451.8,308.1 454.2,311 457.6,312.7 461,313.3 510.1,313.3" fill="none" stroke="#6cb04a" stroke-width="1.45"/>
</g>
<rect x="407" y="215.9" width="103.1" height="97.8" fill="none" stroke="#000" stroke-width="1.5"/>
<text x="442" y="233" font-size="10" text-anchor="start" font-weight="normal" fill="#6cb04a" stroke="#6cb04a" stroke-width="0.25" >0 NS1</text>
<text x="442" y="244.5" font-size="10" text-anchor="start" font-weight="normal" fill="#2c4a92" stroke="#2c4a92" stroke-width="0.25" >0.5 NS1</text>
<text x="442" y="256" font-size="10" text-anchor="start" font-weight="normal" fill="#b3133a" stroke="#b3133a" stroke-width="0.25" >5 NS1</text>
<line x1="403" y1="313.2" x2="407" y2="313.2" stroke="#1a1a1a" stroke-width="1.4"/>
<line x1="404.6" y1="306" x2="407" y2="306" stroke="#1a1a1a" stroke-width="1.1"/>
<line x1="404.6" y1="298.8" x2="407" y2="298.8" stroke="#1a1a1a" stroke-width="1.1"/>
<line x1="404.6" y1="291.6" x2="407" y2="291.6" stroke="#1a1a1a" stroke-width="1.1"/>
<line x1="403" y1="284.4" x2="407" y2="284.4" stroke="#1a1a1a" stroke-width="1.4"/>
<line x1="404.6" y1="277.2" x2="407" y2="277.2" stroke="#1a1a1a" stroke-width="1.1"/>
<line x1="404.6" y1="270" x2="407" y2="270" stroke="#1a1a1a" stroke-width="1.1"/>
<line x1="404.6" y1="262.8" x2="407" y2="262.8" stroke="#1a1a1a" stroke-width="1.1"/>
<line x1="403" y1="255.6" x2="407" y2="255.6" stroke="#1a1a1a" stroke-width="1.4"/>
<line x1="404.6" y1="248.4" x2="407" y2="248.4" stroke="#1a1a1a" stroke-width="1.1"/>
<line x1="404.6" y1="241.2" x2="407" y2="241.2" stroke="#1a1a1a" stroke-width="1.1"/>
<line x1="404.6" y1="234" x2="407" y2="234" stroke="#1a1a1a" stroke-width="1.1"/>
<line x1="403" y1="226.8" x2="407" y2="226.8" stroke="#1a1a1a" stroke-width="1.4"/>
<line x1="404.6" y1="219.6" x2="407" y2="219.6" stroke="#1a1a1a" stroke-width="1.1"/>
<line x1="408.89" y1="313.7" x2="408.89" y2="316.7" stroke="#1a1a1a" stroke-width="1.1"/>
<line x1="410.92" y1="313.7" x2="410.92" y2="316.7" stroke="#1a1a1a" stroke-width="1.1"/>
<line x1="412.57" y1="313.7" x2="412.57" y2="316.7" stroke="#1a1a1a" stroke-width="1.1"/>
<line x1="413.97" y1="313.7" x2="413.97" y2="316.7" stroke="#1a1a1a" stroke-width="1.1"/>
<line x1="415.18" y1="313.7" x2="415.18" y2="316.7" stroke="#1a1a1a" stroke-width="1.1"/>
<line x1="416.24" y1="313.7" x2="416.24" y2="316.7" stroke="#1a1a1a" stroke-width="1.1"/>
<line x1="417.2" y1="313.7" x2="417.2" y2="317.9" stroke="#1a1a1a" stroke-width="1.3"/>
<line x1="423.48" y1="313.7" x2="423.48" y2="316.7" stroke="#1a1a1a" stroke-width="1.1"/>
<line x1="427.16" y1="313.7" x2="427.16" y2="316.7" stroke="#1a1a1a" stroke-width="1.1"/>
<line x1="429.77" y1="313.7" x2="429.77" y2="316.7" stroke="#1a1a1a" stroke-width="1.1"/>
<line x1="431.79" y1="313.7" x2="431.79" y2="316.7" stroke="#1a1a1a" stroke-width="1.1"/>
<line x1="433.45" y1="313.7" x2="433.45" y2="316.7" stroke="#1a1a1a" stroke-width="1.1"/>
<line x1="434.84" y1="313.7" x2="434.84" y2="316.7" stroke="#1a1a1a" stroke-width="1.1"/>
<line x1="436.05" y1="313.7" x2="436.05" y2="316.7" stroke="#1a1a1a" stroke-width="1.1"/>
<line x1="437.12" y1="313.7" x2="437.12" y2="316.7" stroke="#1a1a1a" stroke-width="1.1"/>
<line x1="438.08" y1="313.7" x2="438.08" y2="317.9" stroke="#1a1a1a" stroke-width="1.3"/>
<line x1="444.36" y1="313.7" x2="444.36" y2="316.7" stroke="#1a1a1a" stroke-width="1.1"/>
<line x1="448.04" y1="313.7" x2="448.04" y2="316.7" stroke="#1a1a1a" stroke-width="1.1"/>
<line x1="450.65" y1="313.7" x2="450.65" y2="316.7" stroke="#1a1a1a" stroke-width="1.1"/>
<line x1="452.67" y1="313.7" x2="452.67" y2="316.7" stroke="#1a1a1a" stroke-width="1.1"/>
<line x1="454.32" y1="313.7" x2="454.32" y2="316.7" stroke="#1a1a1a" stroke-width="1.1"/>
<line x1="455.72" y1="313.7" x2="455.72" y2="316.7" stroke="#1a1a1a" stroke-width="1.1"/>
<line x1="456.93" y1="313.7" x2="456.93" y2="316.7" stroke="#1a1a1a" stroke-width="1.1"/>
<line x1="458" y1="313.7" x2="458" y2="316.7" stroke="#1a1a1a" stroke-width="1.1"/>
<line x1="458.96" y1="313.7" x2="458.96" y2="317.9" stroke="#1a1a1a" stroke-width="1.3"/>
<line x1="465.24" y1="313.7" x2="465.24" y2="316.7" stroke="#1a1a1a" stroke-width="1.1"/>
<line x1="468.92" y1="313.7" x2="468.92" y2="316.7" stroke="#1a1a1a" stroke-width="1.1"/>
<line x1="471.53" y1="313.7" x2="471.53" y2="316.7" stroke="#1a1a1a" stroke-width="1.1"/>
<line x1="473.55" y1="313.7" x2="473.55" y2="316.7" stroke="#1a1a1a" stroke-width="1.1"/>
<line x1="475.2" y1="313.7" x2="475.2" y2="316.7" stroke="#1a1a1a" stroke-width="1.1"/>
<line x1="476.6" y1="313.7" x2="476.6" y2="316.7" stroke="#1a1a1a" stroke-width="1.1"/>
<line x1="477.81" y1="313.7" x2="477.81" y2="316.7" stroke="#1a1a1a" stroke-width="1.1"/>
<line x1="478.88" y1="313.7" x2="478.88" y2="316.7" stroke="#1a1a1a" stroke-width="1.1"/>
<line x1="479.83" y1="313.7" x2="479.83" y2="317.9" stroke="#1a1a1a" stroke-width="1.3"/>
<line x1="486.12" y1="313.7" x2="486.12" y2="316.7" stroke="#1a1a1a" stroke-width="1.1"/>
<line x1="489.79" y1="313.7" x2="489.79" y2="316.7" stroke="#1a1a1a" stroke-width="1.1"/>
<line x1="492.4" y1="313.7" x2="492.4" y2="316.7" stroke="#1a1a1a" stroke-width="1.1"/>
<line x1="494.43" y1="313.7" x2="494.43" y2="316.7" stroke="#1a1a1a" stroke-width="1.1"/>
<line x1="496.08" y1="313.7" x2="496.08" y2="316.7" stroke="#1a1a1a" stroke-width="1.1"/>
<line x1="497.48" y1="313.7" x2="497.48" y2="316.7" stroke="#1a1a1a" stroke-width="1.1"/>
<line x1="498.69" y1="313.7" x2="498.69" y2="316.7" stroke="#1a1a1a" stroke-width="1.1"/>
<line x1="499.76" y1="313.7" x2="499.76" y2="316.7" stroke="#1a1a1a" stroke-width="1.1"/>
<line x1="500.71" y1="313.7" x2="500.71" y2="317.9" stroke="#1a1a1a" stroke-width="1.3"/>
<line x1="507" y1="313.7" x2="507" y2="316.7" stroke="#1a1a1a" stroke-width="1.1"/>
<text x="409.3" y="331.4" font-size="10" fill="#111" stroke="#111" stroke-width="0.25">10<tspan font-size="7.5" dy="-4.2">1</tspan></text>
<text x="430.18" y="331.4" font-size="10" fill="#111" stroke="#111" stroke-width="0.25">10<tspan font-size="7.5" dy="-4.2">2</tspan></text>
<text x="451.06" y="331.4" font-size="10" fill="#111" stroke="#111" stroke-width="0.25">10<tspan font-size="7.5" dy="-4.2">3</tspan></text>
<text x="471.93" y="331.4" font-size="10" fill="#111" stroke="#111" stroke-width="0.25">10<tspan font-size="7.5" dy="-4.2">4</tspan></text>
<text x="492.81" y="331.4" font-size="10" fill="#111" stroke="#111" stroke-width="0.25">10<tspan font-size="7.5" dy="-4.2">5</tspan></text>
<text transform="translate(58.5,348.6) scale(0.63,1)" font-size="13.3" fill="#111" stroke="#111" stroke-width="0.45">CD62P</text>
<line x1="95.8" y1="344.6" x2="503" y2="344.6" stroke="#1a1a1a" stroke-width="1.5"/>
<path d="M510.6,344.6 L499.6,340.2 L502.6,344.6 L499.6,349 Z" fill="#000"/>
<text x="10.2" y="376.9" font-size="15.8" text-anchor="start" font-weight="bold" fill="#000" >B</text>
<line x1="55.8" y1="385" x2="55.8" y2="526.55" stroke="#1a1a1a" stroke-width="1.5"/>
<line x1="52" y1="525.8" x2="55.8" y2="525.8" stroke="#1a1a1a" stroke-width="1.3"/>
<text x="47.2" y="529.76" font-size="11" text-anchor="end" font-weight="normal" fill="#111" stroke="#111" stroke-width="0.25" >0</text>
<line x1="52" y1="491.87" x2="55.8" y2="491.87" stroke="#1a1a1a" stroke-width="1.3"/>
<text x="47.2" y="495.83" font-size="11" text-anchor="end" font-weight="normal" fill="#111" stroke="#111" stroke-width="0.25" >200</text>
<line x1="52" y1="457.94" x2="55.8" y2="457.94" stroke="#1a1a1a" stroke-width="1.3"/>
<text x="47.2" y="461.9" font-size="11" text-anchor="end" font-weight="normal" fill="#111" stroke="#111" stroke-width="0.25" >400</text>
<line x1="52" y1="424.01" x2="55.8" y2="424.01" stroke="#1a1a1a" stroke-width="1.3"/>
<text x="47.2" y="427.97" font-size="11" text-anchor="end" font-weight="normal" fill="#111" stroke="#111" stroke-width="0.25" >600</text>
<line x1="52" y1="390.08" x2="55.8" y2="390.08" stroke="#1a1a1a" stroke-width="1.3"/>
<text x="47.2" y="394.04" font-size="11" text-anchor="end" font-weight="normal" fill="#111" stroke="#111" stroke-width="0.25" >800</text>
<line x1="55.8" y1="525.8" x2="382.7" y2="525.8" stroke="#1a1a1a" stroke-width="1.5"/>
<text transform="translate(21.4,455.8) rotate(-90) scale(0.72,1)" font-size="12.6" text-anchor="middle" font-weight="normal" fill="#111" stroke="#111" stroke-width="0.35">MIF (pg/mL)</text>
<rect x="65.7" y="491.1" width="10.9" height="34.2" fill="#6aa542"/>
<line x1="71.15" y1="491.1" x2="71.15" y2="483.1" stroke="#1a1a1a" stroke-width="1.3"/>
<line x1="68.55" y1="483.7" x2="73.75" y2="483.7" stroke="#1a1a1a" stroke-width="1.4"/>
<rect x="83.3" y="464.6" width="11" height="60.7" fill="#2e4c7c"/>
<line x1="88.8" y1="464.6" x2="88.8" y2="452.5" stroke="#1a1a1a" stroke-width="1.3"/>
<line x1="86.2" y1="453.1" x2="91.4" y2="453.1" stroke="#1a1a1a" stroke-width="1.4"/>
<rect x="101" y="445.8" width="10.9" height="79.5" fill="#a20b29"/>
<line x1="106.45" y1="445.8" x2="106.45" y2="436.9" stroke="#1a1a1a" stroke-width="1.3"/>
<line x1="103.85" y1="437.5" x2="109.05" y2="437.5" stroke="#1a1a1a" stroke-width="1.4"/>
<polygon points="106.45,424.8 107.13,425.87 108.35,426.18 107.54,427.16 107.63,428.42 106.45,427.95 105.27,428.42 105.36,427.16 104.55,426.18 105.77,425.87" fill="#111"/>
<line x1="88.8" y1="525.8" x2="88.8" y2="529.3" stroke="#1a1a1a" stroke-width="1.3"/>
<text x="88.8" y="543.5" font-size="10.6" text-anchor="middle" font-weight="normal" fill="#111" stroke="#111" stroke-width="0.25" >Unst</text>
<rect x="130.8" y="455.4" width="10.9" height="69.9" fill="#6aa542"/>
<line x1="136.25" y1="455.4" x2="136.25" y2="442.1" stroke="#1a1a1a" stroke-width="1.3"/>
<line x1="133.65" y1="442.7" x2="138.85" y2="442.7" stroke="#1a1a1a" stroke-width="1.4"/>
<polygon points="136.25,429.7 136.93,430.77 138.15,431.08 137.34,432.06 137.43,433.32 136.25,432.85 135.07,433.32 135.16,432.06 134.35,431.08 135.57,430.77" fill="#111"/>
<rect x="148.4" y="427.1" width="11" height="98.2" fill="#2e4c7c"/>
<line x1="153.9" y1="427.1" x2="153.9" y2="406.5" stroke="#1a1a1a" stroke-width="1.3"/>
<line x1="151.3" y1="407.1" x2="156.5" y2="407.1" stroke="#1a1a1a" stroke-width="1.4"/>
<path d="M152.9,394.4L152.3,402.2M155.5,394.4L154.9,402.2M150.5,396.95L157.3,396.95M150.5,399.15L157.3,399.15" stroke="#1a1a1a" stroke-width="1.0" fill="none"/>
<rect x="166.1" y="419.25" width="10.9" height="106.05" fill="#a20b29"/>
<line x1="171.55" y1="419.25" x2="171.55" y2="399.5" stroke="#1a1a1a" stroke-width="1.3"/>
<line x1="168.95" y1="400.1" x2="174.15" y2="400.1" stroke="#1a1a1a" stroke-width="1.4"/>
<path d="M170.55,387.35L169.95,395.15M173.15,387.35L172.55,395.15M168.15,389.9L174.95,389.9M168.15,392.1L174.95,392.1" stroke="#1a1a1a" stroke-width="1.0" fill="none"/>
<line x1="153.9" y1="525.8" x2="153.9" y2="529.3" stroke="#1a1a1a" stroke-width="1.3"/>
<text x="153.9" y="543.5" font-size="10.6" text-anchor="middle" font-weight="normal" fill="#111" stroke="#111" stroke-width="0.25" >PAF</text>
<rect x="195.9" y="454" width="10.9" height="71.3" fill="#6aa542"/>
<line x1="201.35" y1="454" x2="201.35" y2="437.5" stroke="#1a1a1a" stroke-width="1.3"/>
<line x1="198.75" y1="438.1" x2="203.95" y2="438.1" stroke="#1a1a1a" stroke-width="1.4"/>
<polygon points="201.35,428.45 202.03,429.52 203.25,429.83 202.44,430.81 202.53,432.07 201.35,431.6 200.17,432.07 200.26,430.81 199.45,429.83 200.67,429.52" fill="#111"/>
<rect x="213.5" y="439.75" width="11" height="85.55" fill="#2e4c7c"/>
<line x1="219" y1="439.75" x2="219" y2="428" stroke="#1a1a1a" stroke-width="1.3"/>
<line x1="216.4" y1="428.6" x2="221.6" y2="428.6" stroke="#1a1a1a" stroke-width="1.4"/>
<rect x="231.2" y="410.25" width="10.9" height="115.05" fill="#a20b29"/>
<line x1="236.65" y1="410.25" x2="236.65" y2="398.25" stroke="#1a1a1a" stroke-width="1.3"/>
<line x1="234.05" y1="398.85" x2="239.25" y2="398.85" stroke="#1a1a1a" stroke-width="1.4"/>
<path d="M235.65,387.85L235.05,395.65M238.25,387.85L237.65,395.65M233.25,390.4L240.05,390.4M233.25,392.6L240.05,392.6" stroke="#1a1a1a" stroke-width="1.0" fill="none"/>
<line x1="219" y1="525.8" x2="219" y2="529.3" stroke="#1a1a1a" stroke-width="1.3"/>
<text x="219" y="543.5" font-size="10.6" text-anchor="middle" font-weight="normal" fill="#111" stroke="#111" stroke-width="0.25" >Thr</text>
<rect x="261" y="460.5" width="10.9" height="64.8" fill="#6aa542"/>
<line x1="266.45" y1="460.5" x2="266.45" y2="445.5" stroke="#1a1a1a" stroke-width="1.3"/>
<line x1="263.85" y1="446.1" x2="269.05" y2="446.1" stroke="#1a1a1a" stroke-width="1.4"/>
<polygon points="266.45,434.7 267.13,435.77 268.35,436.08 267.54,437.06 267.63,438.32 266.45,437.85 265.27,438.32 265.36,437.06 264.55,436.08 265.77,435.77" fill="#111"/>
<rect x="278.6" y="433" width="11" height="92.3" fill="#2e4c7c"/>
<line x1="284.1" y1="433" x2="284.1" y2="414.5" stroke="#1a1a1a" stroke-width="1.3"/>
<line x1="281.5" y1="415.1" x2="286.7" y2="415.1" stroke="#1a1a1a" stroke-width="1.4"/>
<path d="M283.1,401.1L282.5,408.9M285.7,401.1L285.1,408.9M280.7,403.65L287.5,403.65M280.7,405.85L287.5,405.85" stroke="#1a1a1a" stroke-width="1.0" fill="none"/>
<rect x="296.3" y="425.5" width="10.9" height="99.8" fill="#a20b29"/>
<line x1="301.75" y1="425.5" x2="301.75" y2="406" stroke="#1a1a1a" stroke-width="1.3"/>
<line x1="299.15" y1="406.6" x2="304.35" y2="406.6" stroke="#1a1a1a" stroke-width="1.4"/>
<path d="M300.75,392.35L300.15,400.15M303.35,392.35L302.75,400.15M298.35,394.9L305.15,394.9M298.35,397.1L305.15,397.1" stroke="#1a1a1a" stroke-width="1.0" fill="none"/>
<line x1="284.1" y1="525.8" x2="284.1" y2="529.3" stroke="#1a1a1a" stroke-width="1.3"/>
<text x="284.1" y="543.5" font-size="10.6" text-anchor="middle" font-weight="normal" fill="#111" stroke="#111" stroke-width="0.25" >Epi</text>
<rect x="326.1" y="460.25" width="10.9" height="65.05" fill="#6aa542"/>
<line x1="331.55" y1="460.25" x2="331.55" y2="449.25" stroke="#1a1a1a" stroke-width="1.3"/>
<line x1="328.95" y1="449.85" x2="334.15" y2="449.85" stroke="#1a1a1a" stroke-width="1.4"/>
<polygon points="331.55,436.95 332.23,438.02 333.45,438.33 332.64,439.31 332.73,440.57 331.55,440.1 330.37,440.57 330.46,439.31 329.65,438.33 330.87,438.02" fill="#111"/>
<rect x="343.7" y="468.25" width="11" height="57.05" fill="#2e4c7c"/>
<line x1="349.2" y1="468.25" x2="349.2" y2="453.75" stroke="#1a1a1a" stroke-width="1.3"/>
<line x1="346.6" y1="454.35" x2="351.8" y2="454.35" stroke="#1a1a1a" stroke-width="1.4"/>
<rect x="361.4" y="453.5" width="10.9" height="71.8" fill="#a20b29"/>
<line x1="366.85" y1="453.5" x2="366.85" y2="439" stroke="#1a1a1a" stroke-width="1.3"/>
<line x1="364.25" y1="439.6" x2="369.45" y2="439.6" stroke="#1a1a1a" stroke-width="1.4"/>
<line x1="349.2" y1="525.8" x2="349.2" y2="529.3" stroke="#1a1a1a" stroke-width="1.3"/>
<text x="349.2" y="543.5" font-size="10.6" text-anchor="middle" font-weight="normal" fill="#111" stroke="#111" stroke-width="0.25" >oxLDL</text>
<text x="395.8" y="438.9" font-size="10.8" text-anchor="start" font-weight="normal" fill="#111" stroke="#111" stroke-width="0.25" >NS1 (μg/mL):</text>
<rect x="395.8" y="446.7" width="12.2" height="5.2" fill="#6aa542"/>
<text x="412.6" y="451.8" font-size="10.8" text-anchor="start" font-weight="normal" fill="#111" stroke="#111" stroke-width="0.25" >0</text>
<rect x="395.8" y="459.6" width="12.2" height="5.2" fill="#2e4c7c"/>
<text x="412.6" y="464.7" font-size="10.8" text-anchor="start" font-weight="normal" fill="#111" stroke="#111" stroke-width="0.25" >0.5</text>
<rect x="395.8" y="472.5" width="12.2" height="5.2" fill="#a20b29"/>
<text x="412.6" y="477.6" font-size="10.8" text-anchor="start" font-weight="normal" fill="#111" stroke="#111" stroke-width="0.25" >5</text>
<text x="9.6" y="573.1" font-size="15.8" text-anchor="start" font-weight="bold" fill="#000" >C</text>
<line x1="55.8" y1="581.2" x2="55.8" y2="722.45" stroke="#1a1a1a" stroke-width="1.5"/>
<line x1="52" y1="721.7" x2="55.8" y2="721.7" stroke="#1a1a1a" stroke-width="1.3"/>
<text x="46.9" y="725.3" font-size="10" text-anchor="end" font-weight="normal" fill="#111" stroke="#111" stroke-width="0.25" >0</text>
<line x1="52" y1="676.55" x2="55.8" y2="676.55" stroke="#1a1a1a" stroke-width="1.3"/>
<text x="46.9" y="680.15" font-size="10" text-anchor="end" font-weight="normal" fill="#111" stroke="#111" stroke-width="0.25" >5</text>
<line x1="52" y1="631.4" x2="55.8" y2="631.4" stroke="#1a1a1a" stroke-width="1.3"/>
<text x="46.9" y="635" font-size="10" text-anchor="end" font-weight="normal" fill="#111" stroke="#111" stroke-width="0.25" >10</text>
<line x1="52" y1="586.25" x2="55.8" y2="586.25" stroke="#1a1a1a" stroke-width="1.3"/>
<text x="46.9" y="589.85" font-size="10" text-anchor="end" font-weight="normal" fill="#111" stroke="#111" stroke-width="0.25" >15</text>
<line x1="55.8" y1="721.7" x2="382.7" y2="721.7" stroke="#1a1a1a" stroke-width="1.5"/>
<text transform="translate(24.6,652) rotate(-90) scale(0.74,1)" font-size="12" text-anchor="middle" font-weight="normal" fill="#111" stroke="#111" stroke-width="0.35">TXB<tspan font-size="9" dy="3">2</tspan><tspan dy="-3"> (ng/mL)</tspan></text>
<rect x="65.7" y="690.5" width="10.9" height="30.7" fill="#6aa542"/>
<line x1="71.15" y1="690.5" x2="71.15" y2="685.8" stroke="#1a1a1a" stroke-width="1.3"/>
<line x1="68.55" y1="686.4" x2="73.75" y2="686.4" stroke="#1a1a1a" stroke-width="1.4"/>
<rect x="83.3" y="695.1" width="11" height="26.1" fill="#2e4c7c"/>
<line x1="88.8" y1="695.1" x2="88.8" y2="688.4" stroke="#1a1a1a" stroke-width="1.3"/>
<line x1="86.2" y1="689" x2="91.4" y2="689" stroke="#1a1a1a" stroke-width="1.4"/>
<rect x="101" y="680.3" width="10.9" height="40.9" fill="#a20b29"/>
<line x1="106.45" y1="680.3" x2="106.45" y2="668.5" stroke="#1a1a1a" stroke-width="1.3"/>
<line x1="103.85" y1="669.1" x2="109.05" y2="669.1" stroke="#1a1a1a" stroke-width="1.4"/>
<line x1="88.8" y1="721.7" x2="88.8" y2="725.2" stroke="#1a1a1a" stroke-width="1.3"/>
<text x="88.8" y="739.8" font-size="10.4" text-anchor="middle" font-weight="normal" fill="#111" stroke="#111" stroke-width="0.25" >Uns</text>
<rect x="130.8" y="688.9" width="10.9" height="32.3" fill="#6aa542"/>
<line x1="136.25" y1="688.9" x2="136.25" y2="677.8" stroke="#1a1a1a" stroke-width="1.3"/>
<line x1="133.65" y1="678.4" x2="138.85" y2="678.4" stroke="#1a1a1a" stroke-width="1.4"/>
<rect x="148.4" y="662.3" width="11" height="58.9" fill="#2e4c7c"/>
<line x1="153.9" y1="662.3" x2="153.9" y2="643.2" stroke="#1a1a1a" stroke-width="1.3"/>
<line x1="151.3" y1="643.8" x2="156.5" y2="643.8" stroke="#1a1a1a" stroke-width="1.4"/>
<rect x="166.1" y="649.6" width="10.9" height="71.6" fill="#a20b29"/>
<line x1="171.55" y1="649.6" x2="171.55" y2="628.8" stroke="#1a1a1a" stroke-width="1.3"/>
<line x1="168.95" y1="629.4" x2="174.15" y2="629.4" stroke="#1a1a1a" stroke-width="1.4"/>
<path d="M170.55,613.9L169.95,621.7M173.15,613.9L172.55,621.7M168.15,616.45L174.95,616.45M168.15,618.65L174.95,618.65" stroke="#1a1a1a" stroke-width="1.0" fill="none"/>
<line x1="153.9" y1="721.7" x2="153.9" y2="725.2" stroke="#1a1a1a" stroke-width="1.3"/>
<text x="153.9" y="739.8" font-size="10.4" text-anchor="middle" font-weight="normal" fill="#111" stroke="#111" stroke-width="0.25" >PAF</text>
<rect x="195.9" y="669.1" width="10.9" height="52.1" fill="#6aa542"/>
<line x1="201.35" y1="669.1" x2="201.35" y2="649.7" stroke="#1a1a1a" stroke-width="1.3"/>
<line x1="198.75" y1="650.3" x2="203.95" y2="650.3" stroke="#1a1a1a" stroke-width="1.4"/>
<rect x="213.5" y="656.9" width="11" height="64.3" fill="#2e4c7c"/>
<line x1="219" y1="656.9" x2="219" y2="639.5" stroke="#1a1a1a" stroke-width="1.3"/>
<line x1="216.4" y1="640.1" x2="221.6" y2="640.1" stroke="#1a1a1a" stroke-width="1.4"/>
<rect x="231.2" y="625.5" width="10.9" height="95.7" fill="#a20b29"/>
<line x1="236.65" y1="625.5" x2="236.65" y2="598.7" stroke="#1a1a1a" stroke-width="1.3"/>
<line x1="234.05" y1="599.3" x2="239.25" y2="599.3" stroke="#1a1a1a" stroke-width="1.4"/>
<path d="M235.65,585.8L235.05,593.6M238.25,585.8L237.65,593.6M233.25,588.35L240.05,588.35M233.25,590.55L240.05,590.55" stroke="#1a1a1a" stroke-width="1.0" fill="none"/>
<line x1="219" y1="721.7" x2="219" y2="725.2" stroke="#1a1a1a" stroke-width="1.3"/>
<text x="219" y="739.8" font-size="10.4" text-anchor="middle" font-weight="normal" fill="#111" stroke="#111" stroke-width="0.25" >Thr</text>
<rect x="261" y="671.2" width="10.9" height="50" fill="#6aa542"/>
<line x1="266.45" y1="671.2" x2="266.45" y2="658.9" stroke="#1a1a1a" stroke-width="1.3"/>
<line x1="263.85" y1="659.5" x2="269.05" y2="659.5" stroke="#1a1a1a" stroke-width="1.4"/>
<rect x="278.6" y="640.9" width="11" height="80.3" fill="#2e4c7c"/>
<line x1="284.1" y1="640.9" x2="284.1" y2="612.3" stroke="#1a1a1a" stroke-width="1.3"/>
<line x1="281.5" y1="612.9" x2="286.7" y2="612.9" stroke="#1a1a1a" stroke-width="1.4"/>
<rect x="296.3" y="644" width="10.9" height="77.2" fill="#a20b29"/>
<line x1="301.75" y1="644" x2="301.75" y2="629.7" stroke="#1a1a1a" stroke-width="1.3"/>
<line x1="299.15" y1="630.3" x2="304.35" y2="630.3" stroke="#1a1a1a" stroke-width="1.4"/>
<line x1="284.1" y1="721.7" x2="284.1" y2="725.2" stroke="#1a1a1a" stroke-width="1.3"/>
<text x="284.1" y="739.8" font-size="10.4" text-anchor="middle" font-weight="normal" fill="#111" stroke="#111" stroke-width="0.25" >Epi</text>
<rect x="326.1" y="681.2" width="10.9" height="40" fill="#6aa542"/>
<line x1="331.55" y1="681.2" x2="331.55" y2="665.2" stroke="#1a1a1a" stroke-width="1.3"/>
<line x1="328.95" y1="665.8" x2="334.15" y2="665.8" stroke="#1a1a1a" stroke-width="1.4"/>
<rect x="343.7" y="679.3" width="11" height="41.9" fill="#2e4c7c"/>
<line x1="349.2" y1="679.3" x2="349.2" y2="665.2" stroke="#1a1a1a" stroke-width="1.3"/>
<line x1="346.6" y1="665.8" x2="351.8" y2="665.8" stroke="#1a1a1a" stroke-width="1.4"/>
<rect x="361.4" y="665.7" width="10.9" height="55.5" fill="#a20b29"/>
<line x1="366.85" y1="665.7" x2="366.85" y2="652.8" stroke="#1a1a1a" stroke-width="1.3"/>
<line x1="364.25" y1="653.4" x2="369.45" y2="653.4" stroke="#1a1a1a" stroke-width="1.4"/>
<line x1="349.2" y1="721.7" x2="349.2" y2="725.2" stroke="#1a1a1a" stroke-width="1.3"/>
<text x="349.2" y="739.8" font-size="10.4" text-anchor="middle" font-weight="normal" fill="#111" stroke="#111" stroke-width="0.25" >oxLDL</text>
<text x="396" y="635" font-size="10.8" text-anchor="start" font-weight="normal" fill="#111" stroke="#111" stroke-width="0.25" >NS1 (μg/mL):</text>
<rect x="396" y="642.3" width="12" height="5.9" fill="#6aa542"/>
<text x="412.7" y="648.2" font-size="10.8" text-anchor="start" font-weight="normal" fill="#111" stroke="#111" stroke-width="0.25" >0</text>
<rect x="396" y="655.6" width="12" height="5.9" fill="#2e4c7c"/>
<text x="412.7" y="661.5" font-size="10.8" text-anchor="start" font-weight="normal" fill="#111" stroke="#111" stroke-width="0.25" >0.5</text>
<rect x="396" y="668.9" width="12" height="5.9" fill="#a20b29"/>
<text x="412.7" y="674.8" font-size="10.8" text-anchor="start" font-weight="normal" fill="#111" stroke="#111" stroke-width="0.25" >5</text>
<text x="10.2" y="769.2" font-size="15.8" text-anchor="start" font-weight="bold" fill="#000" >D</text>
<line x1="55.8" y1="777.3" x2="55.8" y2="918.35" stroke="#1a1a1a" stroke-width="1.5"/>
<line x1="52" y1="917.6" x2="55.8" y2="917.6" stroke="#1a1a1a" stroke-width="1.3"/>
<text x="47.2" y="921.56" font-size="11" text-anchor="end" font-weight="normal" fill="#111" stroke="#111" stroke-width="0.25" >0</text>
<line x1="52" y1="883.75" x2="55.8" y2="883.75" stroke="#1a1a1a" stroke-width="1.3"/>
<text x="47.2" y="887.71" font-size="11" text-anchor="end" font-weight="normal" fill="#111" stroke="#111" stroke-width="0.25" >20</text>
<line x1="52" y1="849.9" x2="55.8" y2="849.9" stroke="#1a1a1a" stroke-width="1.3"/>
<text x="47.2" y="853.86" font-size="11" text-anchor="end" font-weight="normal" fill="#111" stroke="#111" stroke-width="0.25" >40</text>
<line x1="52" y1="816.05" x2="55.8" y2="816.05" stroke="#1a1a1a" stroke-width="1.3"/>
<text x="47.2" y="820.01" font-size="11" text-anchor="end" font-weight="normal" fill="#111" stroke="#111" stroke-width="0.25" >60</text>
<line x1="52" y1="782.2" x2="55.8" y2="782.2" stroke="#1a1a1a" stroke-width="1.3"/>
<text x="47.2" y="786.16" font-size="11" text-anchor="end" font-weight="normal" fill="#111" stroke="#111" stroke-width="0.25" >80</text>
<line x1="55.8" y1="917.6" x2="366.1" y2="917.6" stroke="#1a1a1a" stroke-width="1.5"/>
<text transform="translate(27.2,847.3) rotate(-90) scale(0.7,1)" font-size="12.8" text-anchor="middle" font-weight="normal" fill="#111" stroke="#111" stroke-width="0.35">CD41<tspan font-size="9" dy="-4">+</tspan><tspan dy="4">CD62P</tspan><tspan font-size="9" dy="-4">+</tspan><tspan dy="4"> (%)</tspan></text>
<rect x="65.8" y="888.2" width="12.9" height="28.9" fill="#a20b29"/>
<line x1="72.25" y1="888.2" x2="72.25" y2="877.5" stroke="#1a1a1a" stroke-width="1.3"/>
<line x1="69.45" y1="878.1" x2="75.05" y2="878.1" stroke="#1a1a1a" stroke-width="1.4"/>
<rect x="85.1" y="884.7" width="12.9" height="32.4" fill="#522762"/>
<line x1="91.55" y1="884.7" x2="91.55" y2="874.5" stroke="#1a1a1a" stroke-width="1.3"/>
<line x1="88.75" y1="875.1" x2="94.35" y2="875.1" stroke="#1a1a1a" stroke-width="1.4"/>
<line x1="81.9" y1="917.6" x2="81.9" y2="921.1" stroke="#1a1a1a" stroke-width="1.3"/>
<text x="81.9" y="936" font-size="10.6" text-anchor="middle" font-weight="normal" fill="#111" stroke="#111" stroke-width="0.25" >Unst</text>
<rect x="117.4" y="860.8" width="12.9" height="56.3" fill="#a20b29"/>
<line x1="123.85" y1="860.8" x2="123.85" y2="846.5" stroke="#1a1a1a" stroke-width="1.3"/>
<line x1="121.05" y1="847.1" x2="126.65" y2="847.1" stroke="#1a1a1a" stroke-width="1.4"/>
<polygon points="123.85,835.6 124.53,836.67 125.75,836.98 124.94,837.96 125.03,839.22 123.85,838.75 122.67,839.22 122.76,837.96 121.95,836.98 123.17,836.67" fill="#111"/>
<rect x="136.7" y="856.5" width="12.9" height="60.6" fill="#522762"/>
<line x1="143.15" y1="856.5" x2="143.15" y2="843.5" stroke="#1a1a1a" stroke-width="1.3"/>
<line x1="140.35" y1="844.1" x2="145.95" y2="844.1" stroke="#1a1a1a" stroke-width="1.4"/>
<polygon points="143.15,831.5 143.83,832.57 145.05,832.88 144.24,833.86 144.33,835.12 143.15,834.65 141.97,835.12 142.06,833.86 141.25,832.88 142.47,832.57" fill="#111"/>
<line x1="133.5" y1="917.6" x2="133.5" y2="921.1" stroke="#1a1a1a" stroke-width="1.3"/>
<text x="133.5" y="936" font-size="10.6" text-anchor="middle" font-weight="normal" fill="#111" stroke="#111" stroke-width="0.25" >PAF</text>
<rect x="169" y="826" width="12.9" height="91.1" fill="#a20b29"/>
<line x1="175.45" y1="826" x2="175.45" y2="803.4" stroke="#1a1a1a" stroke-width="1.3"/>
<line x1="172.65" y1="804" x2="178.25" y2="804" stroke="#1a1a1a" stroke-width="1.4"/>
<polygon points="175.45,792.5 176.13,793.57 177.35,793.88 176.54,794.86 176.63,796.12 175.45,795.65 174.27,796.12 174.36,794.86 173.55,793.88 174.77,793.57" fill="#111"/>
<rect x="188.3" y="820.4" width="12.9" height="96.7" fill="#522762"/>
<line x1="194.75" y1="820.4" x2="194.75" y2="799.1" stroke="#1a1a1a" stroke-width="1.3"/>
<line x1="191.95" y1="799.7" x2="197.55" y2="799.7" stroke="#1a1a1a" stroke-width="1.4"/>
<polygon points="194.75,787.9 195.43,788.97 196.65,789.28 195.84,790.26 195.93,791.52 194.75,791.05 193.57,791.52 193.66,790.26 192.85,789.28 194.07,788.97" fill="#111"/>
<line x1="185.1" y1="917.6" x2="185.1" y2="921.1" stroke="#1a1a1a" stroke-width="1.3"/>
<text x="185.1" y="936" font-size="10.6" text-anchor="middle" font-weight="normal" fill="#111" stroke="#111" stroke-width="0.25" >Thr</text>
<rect x="220.6" y="872.1" width="12.9" height="45" fill="#a20b29"/>
<line x1="227.05" y1="872.1" x2="227.05" y2="857.6" stroke="#1a1a1a" stroke-width="1.3"/>
<line x1="224.25" y1="858.2" x2="229.85" y2="858.2" stroke="#1a1a1a" stroke-width="1.4"/>
<rect x="239.9" y="872.1" width="12.9" height="45" fill="#522762"/>
<line x1="246.35" y1="872.1" x2="246.35" y2="857.6" stroke="#1a1a1a" stroke-width="1.3"/>
<line x1="243.55" y1="858.2" x2="249.15" y2="858.2" stroke="#1a1a1a" stroke-width="1.4"/>
<polygon points="246.35,843.9 247.03,844.97 248.25,845.28 247.44,846.26 247.53,847.52 246.35,847.05 245.17,847.52 245.26,846.26 244.45,845.28 245.67,844.97" fill="#111"/>
<line x1="236.7" y1="917.6" x2="236.7" y2="921.1" stroke="#1a1a1a" stroke-width="1.3"/>
<text x="236.7" y="936" font-size="10.6" text-anchor="middle" font-weight="normal" fill="#111" stroke="#111" stroke-width="0.25" >NS1</text>
<rect x="272.2" y="859" width="12.9" height="58.1" fill="#a20b29"/>
<line x1="278.65" y1="859" x2="278.65" y2="843.7" stroke="#1a1a1a" stroke-width="1.3"/>
<line x1="275.85" y1="844.3" x2="281.45" y2="844.3" stroke="#1a1a1a" stroke-width="1.4"/>
<path d="M277.65,831.9L277.05,839.7M280.25,831.9L279.65,839.7M275.25,834.45L282.05,834.45M275.25,836.65L282.05,836.65" stroke="#1a1a1a" stroke-width="1.0" fill="none"/>
<rect x="291.5" y="854.8" width="12.9" height="62.3" fill="#522762"/>
<line x1="297.95" y1="854.8" x2="297.95" y2="840.6" stroke="#1a1a1a" stroke-width="1.3"/>
<line x1="295.15" y1="841.2" x2="300.75" y2="841.2" stroke="#1a1a1a" stroke-width="1.4"/>
<path d="M296.95,829.1L296.35,836.9M299.55,829.1L298.95,836.9M294.55,831.65L301.35,831.65M294.55,833.85L301.35,833.85" stroke="#1a1a1a" stroke-width="1.0" fill="none"/>
<line x1="288.3" y1="917.6" x2="288.3" y2="921.1" stroke="#1a1a1a" stroke-width="1.3"/>
<text x="288.3" y="936" font-size="10.6" text-anchor="middle" font-weight="normal" fill="#111" stroke="#111" stroke-width="0.25" >NS1</text>
<text x="288.3" y="949.5" font-size="10.6" text-anchor="middle" font-weight="normal" fill="#111" stroke="#111" stroke-width="0.25" >+PAF</text>
<rect x="323.8" y="823.7" width="12.9" height="93.4" fill="#a20b29"/>
<line x1="330.25" y1="823.7" x2="330.25" y2="802.2" stroke="#1a1a1a" stroke-width="1.3"/>
<line x1="327.45" y1="802.8" x2="333.05" y2="802.8" stroke="#1a1a1a" stroke-width="1.4"/>
<path d="M329.25,790.3L328.65,798.1M331.85,790.3L331.25,798.1M326.85,792.85L333.65,792.85M326.85,795.05L333.65,795.05" stroke="#1a1a1a" stroke-width="1.0" fill="none"/>
<rect x="343.1" y="816" width="12.9" height="101.1" fill="#522762"/>
<line x1="349.55" y1="816" x2="349.55" y2="794.2" stroke="#1a1a1a" stroke-width="1.3"/>
<line x1="346.75" y1="794.8" x2="352.35" y2="794.8" stroke="#1a1a1a" stroke-width="1.4"/>
<path d="M348.55,784.4L347.95,792.2M351.15,784.4L350.55,792.2M346.15,786.95L352.95,786.95M346.15,789.15L352.95,789.15" stroke="#1a1a1a" stroke-width="1.0" fill="none"/>
<line x1="339.9" y1="917.6" x2="339.9" y2="921.1" stroke="#1a1a1a" stroke-width="1.3"/>
<text x="339.9" y="936" font-size="10.6" text-anchor="middle" font-weight="normal" fill="#111" stroke="#111" stroke-width="0.25" >NS1</text>
<text x="339.9" y="949.5" font-size="10.6" text-anchor="middle" font-weight="normal" fill="#111" stroke="#111" stroke-width="0.25" >+Thr</text>
<rect x="378.8" y="837.7" width="12.5" height="6.3" fill="#a20b29"/>
<text x="396.2" y="844.4" font-size="10.2" text-anchor="start" font-weight="normal" fill="#111" stroke="#111" stroke-width="0.25" >Vehicle</text>
<rect x="378.8" y="851.2" width="12.5" height="6.3" fill="#522762"/>
<text x="396.2" y="857.9" font-size="10.2" text-anchor="start" font-weight="normal" fill="#111" stroke="#111" stroke-width="0.25" >Aspirin</text>
</svg></body></html>
